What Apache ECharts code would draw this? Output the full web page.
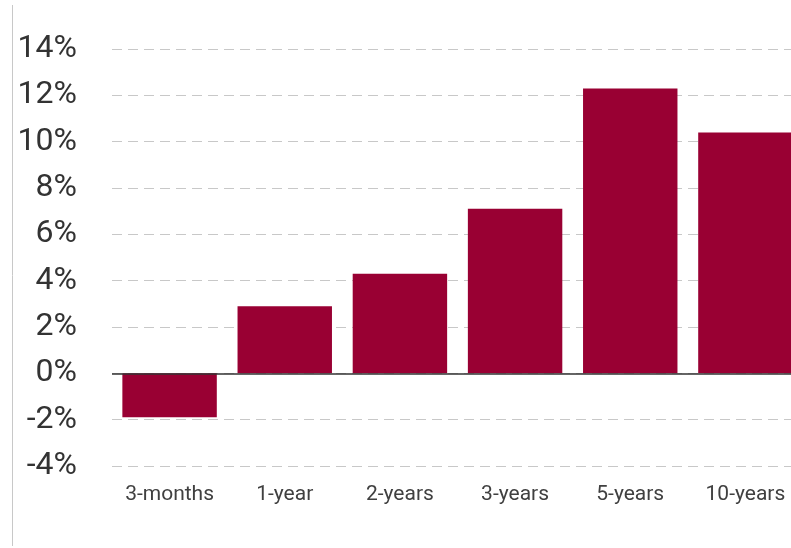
<!DOCTYPE html>
<html><head><meta charset="utf-8">
<script src="https://cdn.jsdelivr.net/npm/echarts@6/dist/echarts.min.js"></script>
<style>html,body{margin:0;padding:0;background:#fff;overflow:hidden}#c{width:803px;height:548px}</style>
</head><body><div id="c"></div>
<script>
var categories = ['3-months', '1-year', '2-years', '3-years', '5-years', '10-years'];
var values = [-1.9, 2.9, 4.3, 7.1, 12.3, 10.4];
var yMin = -4, yMax = 14, yStep = 2;

var chart = echarts.init(document.getElementById('c'));
chart.setOption({
  animation: false,
  graphic: [{ type: 'line', shape: { x1: 12.5, y1: 5, x2: 12.5, y2: 546 }, style: { stroke: '#c8c8c8', lineWidth: 1 } }],
  grid: { left: 112, right: 0, top: 49, bottom: 82, containLabel: false },
  xAxis: {
    type: 'category', data: categories,
    axisLine: { show: false }, axisTick: { show: false },
    axisLabel: { color: '#404040', fontSize: 21, fontFamily: 'Roboto', margin: 18, interval: 0, hideOverlap: false }
  },
  yAxis: {
    type: 'value', min: yMin, max: yMax, interval: yStep,
    axisLine: { show: false }, axisTick: { show: false },
    axisLabel: { color: '#333', fontSize: 32, fontFamily: 'Roboto', margin: 35, formatter: function (v) { return v + '%'; } },
    splitLine: { lineStyle: { color: '#c8c8c8', type: [10, 6], width: 1 } }
  },
  series: [{
    type: 'bar', data: values, barCategoryGap: '18%',
    itemStyle: { color: '#990033' },
    markLine: { silent: true, symbol: 'none', label: { show: false }, lineStyle: { color: '#333', type: 'solid', width: 1.5 }, data: [{ yAxis: 0 }] }
  }]
});
</script></body></html>
